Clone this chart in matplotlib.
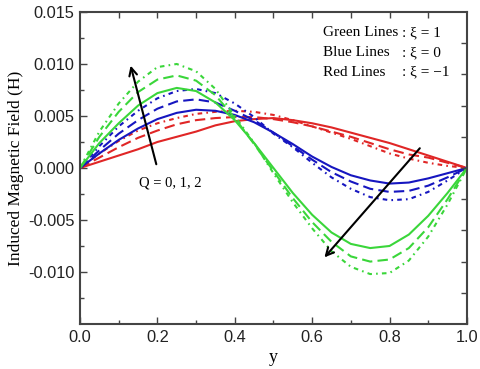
import numpy as np
import matplotlib
matplotlib.use("Agg")
import matplotlib.pyplot as plt

y = [0.00, 0.05, 0.10, 0.15, 0.20, 0.25, 0.30, 0.35, 0.40, 0.45, 0.50,
     0.55, 0.60, 0.65, 0.70, 0.75, 0.80, 0.85, 0.90, 0.95, 1.00]

# Green lines: xi = 1
green_q0 = [0, 0.0024, 0.0043, 0.0060, 0.0072, 0.0077, 0.0074, 0.0063, 0.0046, 0.0024, 0.0000,
            -0.0024, -0.0045, -0.0062, -0.0073, -0.0077, -0.0075, -0.0064, -0.0046, -0.0024, 0]
green_q1 = [0, 0.0030, 0.0054, 0.0073, 0.0085, 0.0089, 0.0084, 0.0070, 0.0048, 0.0023, -0.0003,
            -0.0029, -0.0052, -0.0071, -0.0085, -0.0090, -0.0088, -0.0077, -0.0057, -0.0030, 0]
green_q2 = [0, 0.0035, 0.0062, 0.0083, 0.0097, 0.0100, 0.0093, 0.0076, 0.0050, 0.0024, -0.0005,
            -0.0033, -0.0058, -0.0080, -0.0095, -0.0102, -0.0101, -0.0089, -0.0066, -0.0035, 0]

# Blue lines: xi = 0
blue_q0 = [0, 0.0014, 0.0027, 0.0038, 0.0047, 0.0053, 0.0056, 0.0055, 0.0051, 0.0044, 0.0034,
           0.0023, 0.0011, 0.0001, -0.0007, -0.0012, -0.0015, -0.0014, -0.0010, -0.0005, 0]
blue_q1 = [0, 0.0017, 0.0033, 0.0046, 0.0057, 0.0064, 0.0066, 0.0063, 0.0055, 0.0046, 0.0034,
           0.0021, 0.0008, -0.0004, -0.0013, -0.0020, -0.0023, -0.0022, -0.0017, -0.0009, 0]
blue_q2 = [0, 0.0021, 0.0040, 0.0055, 0.0067, 0.0074, 0.0076, 0.0072, 0.0062, 0.0049, 0.0033,
           0.0020, 0.0005, -0.0009, -0.0020, -0.0028, -0.0031, -0.0030, -0.0023, -0.0012, 0]

# Red lines: xi = -1
red_q0 = [0, 0.0006, 0.0012, 0.0018, 0.0025, 0.0030, 0.0035, 0.0041, 0.0045, 0.0047, 0.0048,
          0.0046, 0.0043, 0.0039, 0.0034, 0.0029, 0.0024, 0.0018, 0.0012, 0.0006, 0]
red_q1 = [0, 0.0010, 0.0020, 0.0029, 0.0036, 0.0042, 0.0046, 0.0048, 0.0049, 0.0049, 0.0047,
          0.0044, 0.0040, 0.0035, 0.0030, 0.0024, 0.0018, 0.0013, 0.0010, 0.0005, 0]
red_q2 = [0, 0.0014, 0.0026, 0.0036, 0.0043, 0.0048, 0.0052, 0.0054, 0.0055, 0.0054, 0.0051,
          0.0046, 0.0040, 0.0034, 0.0028, 0.0021, 0.0014, 0.0009, 0.0005, 0.0002, 0]

legend_names = ["Green Lines", "Blue Lines", "Red Lines"]
legend_vals = [": \u03be = 1", ": \u03be = 0", ": \u03be = \u22121"]
yticks = [-0.010, -0.005, 0.000, 0.005, 0.010, 0.015]
xticks = [0.0, 0.2, 0.4, 0.6, 0.8, 1.0]

GREEN = "#3ad63a"
BLUE = "#1616c0"
RED = "#e02626"
styles = ["-", (0, (5, 2.5)), (0, (2.2, 2, 0.8, 2))]

fig = plt.figure(figsize=(4.8, 3.69), dpi=100)
ax = fig.add_axes([0.1667, 0.122, 0.806, 0.8455])

for color, series in [(RED, [red_q0, red_q1, red_q2]),
                      (BLUE, [blue_q0, blue_q1, blue_q2]),
                      (GREEN, [green_q0, green_q1, green_q2])]:
    for s, ls in zip(series, styles):
        ax.plot(y, s, color=color, lw=1.5, linestyle=ls)

ax.set_xlim(0, 1)
ax.set_ylim(-0.015, 0.015)
ax.set_xticks(xticks)
ax.set_xticklabels(["%.1f" % t for t in xticks])
ax.set_xticks(np.arange(0.1, 1.0, 0.2), minor=True)
ax.set_yticks(yticks)
ax.set_yticklabels(["%.3f" % t if t != 0 else "0.000" for t in yticks])
ax.set_yticks(np.arange(-0.0125, 0.015, 0.005), minor=True)

sans = "Liberation Sans"
serif = "Liberation Serif"
for lab in ax.get_xticklabels() + ax.get_yticklabels():
    lab.set_fontfamily(sans)
    lab.set_fontsize(11.8)
    lab.set_color("#222222")

ax.tick_params(which="major", direction="in", length=5, width=1.0, color="#444444", pad=4)
ax.tick_params(which="minor", direction="in", length=3, width=1.0, color="#444444")
for sp in ax.spines.values():
    sp.set_linewidth(1.5)
    sp.set_color("#444444")

# top and right tick marks
axt = ax.twiny()
axt.set_xlim(0, 1)
axt.set_xticks(np.arange(0.1, 1.0, 0.1))
axt.tick_params(direction="in", length=4, width=1.0, color="#444444", labeltop=False)
axr = ax.twinx()
axr.set_ylim(0, 10)
axr.set_yticks(np.arange(1, 10, 1))
axr.tick_params(direction="in", length=4, width=1.0, color="#444444", labelright=False)
for a in (axt, axr):
    for sp in a.spines.values():
        sp.set_visible(False)

ax.set_xlabel("y", fontfamily=serif, fontsize=13, labelpad=3)
ax.set_ylabel("Induced Magnetic Field (H)", fontfamily=serif, fontsize=12.5, labelpad=3)

for i, (n, v) in enumerate(zip(legend_names, legend_vals)):
    yy = 0.0130 - i * 0.0019
    ax.text(0.628, yy, n, fontfamily=serif, fontsize=11, va="center", ha="left")
    ax.text(0.832, yy, v, fontfamily=serif, fontsize=11, va="center", ha="left")

ax.annotate("", xy=(0.129, 0.0101), xytext=(0.199, 0.0001),
            arrowprops=dict(arrowstyle="->", color="black", lw=1.5, mutation_scale=14))
ax.annotate("", xy=(0.627, -0.0088), xytext=(0.883, 0.0021),
            arrowprops=dict(arrowstyle="->", color="black", lw=1.5, mutation_scale=14))
ax.text(0.233, -0.00145, "Q = 0, 1, 2", fontfamily=serif, fontsize=10.5, ha="center", va="center")

fig.savefig("out.png", dpi=100)
